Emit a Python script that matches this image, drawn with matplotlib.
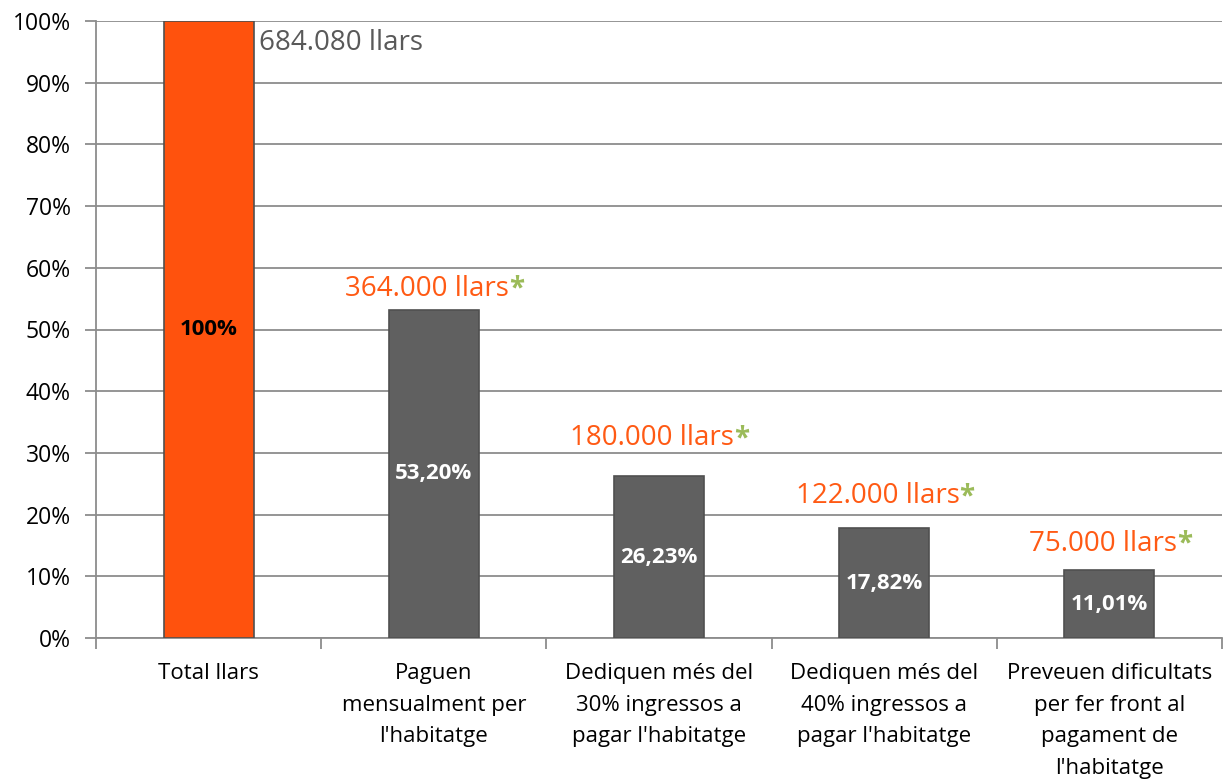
import matplotlib
matplotlib.use("Agg")
import matplotlib.pyplot as plt
from matplotlib.ticker import FixedLocator, NullFormatter

plt.rcParams['font.family'] = ['Open Sans', 'DejaVu Sans']

categories = ["Total llars",
              "Paguen\nmensualment per\nl'habitatge",
              "Dediquen més del\n30% ingressos a\npagar l'habitatge",
              "Dediquen més del\n40% ingressos a\npagar l'habitatge",
              "Preveuen dificultats\nper fer front al\npagament de\nl'habitatge"]
values = [100.0, 53.20, 26.23, 17.82, 11.01]
value_labels = ["100%", "53,20%", "26,23%", "17,82%", "11,01%"]
households = ["684.080 llars", "364.000 llars", "180.000 llars", "122.000 llars", "75.000 llars"]
y_ticks = [0, 10, 20, 30, 40, 50, 60, 70, 80, 90, 100]

# styling
bar_colors = ["#FF520D", "#606060", "#606060", "#606060", "#606060"]
label_colors = ["black", "white", "white", "white", "white"]
offsets_pt = [0, 15, 27.5, 23, 19]

fig = plt.figure(figsize=(12.24, 7.81), dpi=100)
ax = fig.add_axes([96/1224, 143/781, 1126/1224, 617/781])

x = list(range(len(values)))
ax.bar(x, values, width=0.4, color=bar_colors, edgecolor="#505050", linewidth=1.2, zorder=3)

ax.set_xlim(-0.5, len(values) - 0.5)
ax.set_ylim(0, 100)
ax.yaxis.set_major_locator(FixedLocator(y_ticks))
ax.set_yticklabels([f"{t}%" for t in y_ticks])
ax.grid(axis='y', color="#8C8C8C", linewidth=1.3, zorder=0)

ax.set_xticks(x)
ax.set_xticklabels(categories, fontsize=16, linespacing=1.66, va='top')
ax.xaxis.set_minor_locator(FixedLocator([i - 0.5 for i in range(len(values) + 1)]))
ax.xaxis.set_minor_formatter(NullFormatter())
ax.tick_params(axis='x', which='major', length=0, pad=18)
ax.tick_params(axis='x', which='minor', length=8, width=1.3, color="#8C8C8C")
ax.tick_params(axis='y', length=8, width=1.3, color="#8C8C8C", labelsize=16.5, pad=10)

for s in ['top', 'right']:
    ax.spines[s].set_visible(False)
for s in ['left', 'bottom']:
    ax.spines[s].set_color("#8C8C8C")
    ax.spines[s].set_linewidth(1.3)

for i, v in enumerate(values):
    ax.text(i, v / 2, value_labels[i], ha='center', va='center', fontsize=16,
            fontweight='bold', color=label_colors[i], zorder=4)

# total households label
ax.annotate(households[0], xy=(0.2, 100), xytext=(4, -16), textcoords='offset points',
            ha='left', va='center', fontsize=20, color="#595959")

for i in range(1, len(values)):
    t = ax.annotate(households[i], xy=(i - 0.03, values[i]), xytext=(0, offsets_pt[i]),
                    textcoords='offset points', ha='center', va='center',
                    fontsize=20, color="#FF5A14")
    ax.annotate("*", xy=(1, 1), xycoords=t, xytext=(0, 0), textcoords='offset points',
                ha='left', va='top', fontsize=20, fontweight='bold', color="#9BBB59")

fig.savefig("out.png", dpi=100)
